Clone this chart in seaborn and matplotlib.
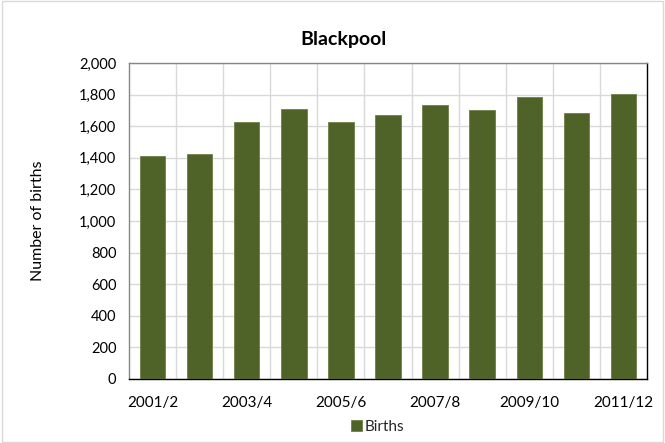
import matplotlib
matplotlib.use("Agg")
import matplotlib.pyplot as plt
import pandas as pd
import seaborn as sns
from matplotlib.ticker import FuncFormatter, FixedLocator

# Data
periods = ["2001/2", "2002/3", "2003/4", "2004/5", "2005/6", "2006/7",
           "2007/8", "2008/9", "2009/10", "2010/11", "2011/12"]
births = [1410, 1421, 1629, 1709, 1628, 1672, 1732, 1703, 1785, 1684, 1806]
shown_labels = ["2001/2", "2003/4", "2005/6", "2007/8", "2009/10", "2011/12"]

sns.set_theme(style="white")
plt.rcParams['font.family'] = ['Lato', 'DejaVu Sans']

data = pd.DataFrame({"Period": periods, "Births": births})

fig = plt.figure(figsize=(6.65, 4.43), dpi=100)
ax = fig.add_axes([129 / 665, 1 - 379 / 443, (647 - 129) / 665, (379 - 63) / 443])

sns.barplot(data=data, x="Period", y="Births", color="#4F6228", width=0.54,
            saturation=1, edgecolor="#6E8045", linewidth=0.6, ax=ax,
            label="Births", zorder=3)
if ax.get_legend() is not None:
    ax.get_legend().remove()

ax.set_ylim(0, 2000)
ax.set_xlim(-0.5, len(periods) - 0.5)
ax.set_yticks(range(0, 2001, 200))
ax.yaxis.set_major_formatter(FuncFormatter(lambda v, p: f"{int(v):,}"))

# category labels on every other bar
pos = [periods.index(lbl) for lbl in shown_labels]
ax.set_xticks(pos)
ax.set_xticklabels(shown_labels)
ax.xaxis.set_minor_locator(FixedLocator([i + 0.5 for i in range(len(periods) - 1)]))

ax.grid(axis="y", which="major", color="#D9D9D9", linewidth=1, zorder=0)
ax.grid(axis="x", which="minor", color="#D9D9D9", linewidth=1, zorder=0)
ax.grid(axis="x", which="major", visible=False)
ax.set_axisbelow(True)

ax.tick_params(axis="y", which="major", length=5, width=1, color="#868686",
               direction="out", labelsize=10.5, labelcolor="#000000", pad=4)
ax.tick_params(axis="x", which="both", length=0, labelsize=11,
               labelcolor="#000000", pad=12)

ax.spines["left"].set_color("#868686")
ax.spines["top"].set_color("#868686")
ax.spines["bottom"].set_color("#000000")
ax.spines["right"].set_color("#000000")
for s in ax.spines.values():
    s.set_linewidth(1)

ax.set_xlabel("")
ax.set_ylabel("Number of births", fontsize=11.5, color="#000000")
ax.yaxis.set_label_coords((45 - 129) / 518, 0.5)

fig.text(343 / 665, 1 - 40 / 443, "Blackpool", ha="center", va="center",
         fontsize=14, fontweight="bold", color="#000000")

handles, labels = ax.get_legend_handles_labels()
fig.legend(handles, labels, loc="center", bbox_to_anchor=(378 / 665, 1 - 427 / 443),
           frameon=False, fontsize=11, handlelength=0.7, handleheight=0.7,
           handletextpad=0.2, borderpad=0)

fig.patches.append(plt.Rectangle((0.003, 0.003), 0.994, 0.994, transform=fig.transFigure,
                                 fill=False, edgecolor="#D9D9D9", linewidth=1))

fig.savefig("out.png", dpi=100)
